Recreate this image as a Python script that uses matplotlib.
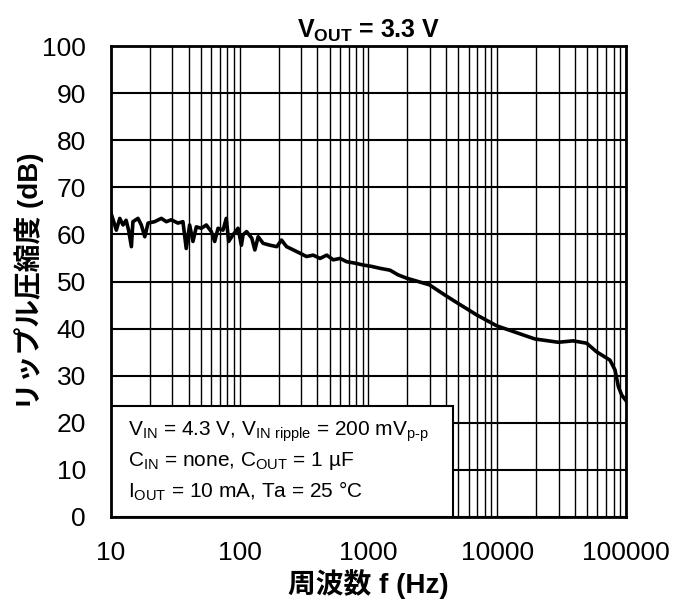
import numpy as np
import matplotlib.pyplot as plt
from matplotlib.patches import Rectangle
from matplotlib.ticker import FixedLocator, NullFormatter

plt.rcParams['font.family'] = ['Liberation Sans', 'Noto Sans CJK JP', 'DejaVu Sans']
plt.rcParams['mathtext.fontset'] = 'custom'
plt.rcParams['mathtext.rm'] = 'Liberation Sans'
plt.rcParams['mathtext.it'] = 'Liberation Sans:italic'
plt.rcParams['mathtext.bf'] = 'Liberation Sans:bold'

# frequency (Hz) and ripple rejection (dB)
freq = [10, 10.5, 11, 11.7, 12.4, 13.1, 13.7, 14.4, 14.8, 16.2, 17.2, 18.3, 19.4,
        21.8, 24.6, 26.9, 29.4, 33.1, 36.2, 38.4, 40.8, 43.3, 46, 50.3, 55, 60.1,
        63.9, 67.8, 74.1, 78.6, 82, 88.6, 97, 103, 106, 113, 124, 131, 139, 152,
        172, 194, 211, 231, 261, 294, 330, 372, 420, 474, 532, 601, 677, 785, 910,
        1060, 1228, 1470, 1700, 1980, 2970, 3930, 4930, 5890, 6920, 9880, 19600,
        29800, 38900, 49500, 58900, 75100, 82200, 87200, 92600, 100000]
psrr = [64.5, 62.7, 60.9, 63.4, 62.0, 63.0, 60.9, 57.4, 62.7, 63.4, 62.0, 59.5, 62.4,
        62.7, 63.4, 62.7, 63.1, 62.4, 62.7, 57.0, 62.0, 58.5, 61.6, 61.3, 62.0, 60.6,
        58.5, 61.3, 60.9, 63.4, 58.5, 59.9, 61.3, 57.7, 59.9, 60.6, 59.2, 56.7, 59.5, 58.1,
        57.7, 57.4, 58.8, 57.4, 56.7, 56.0, 55.3, 55.6, 54.9, 55.6, 54.6, 54.9, 54.2, 53.9, 53.5,
        53.2, 52.8, 52.4, 51.4, 50.7, 49.3, 47.1, 45.4, 44.1, 42.9, 40.6, 37.8,
        37.1, 37.4, 36.9, 35.1, 33.3, 31.2, 27.7, 25.9, 24.7]

xticks = [10, 100, 1000, 10000, 100000]
xticklabels = ['10', '100', '1000', '10000', '100000']
yticks = list(range(0, 101, 10))

fig = plt.figure(figsize=(6.73, 6.04), dpi=100)
ax = fig.add_axes([111 / 673, 87 / 604, 515 / 673, 471 / 604])

ax.plot(freq, psrr, color='black', lw=2.6, zorder=3)

ax.set_xscale('log')
ax.set_xlim(10, 100000)
ax.set_ylim(0, 100)
ax.set_xticks(xticks)
ax.set_xticklabels(xticklabels)
minor = [m * d for d in [10, 100, 1000, 10000] for m in range(2, 10)]
ax.xaxis.set_minor_locator(FixedLocator(minor))
ax.xaxis.set_minor_formatter(NullFormatter())
ax.set_yticks(yticks)

ax.grid(True, which='major', axis='y', color='black', lw=1.5)
ax.grid(True, which='both', axis='x', color='black', lw=1.0)
ax.set_axisbelow(True)
for s in ax.spines.values():
    s.set_linewidth(2)
    s.set_zorder(5)

ax.tick_params(axis='both', which='both', length=0, labelsize=19)
ax.tick_params(axis='x', pad=17)
ax.tick_params(axis='y', pad=18)

ax.set_title(r'$\mathbf{V_{OUT}}$ = 3.3 V', fontsize=18, fontweight='bold', pad=6)
ax.set_xlabel('周波数 f (Hz)', fontsize=20, fontweight='bold', labelpad=3)
ax.set_ylabel('リップル圧縮度 (dB)', fontsize=20, fontweight='bold', labelpad=-1)

# condition box
box = Rectangle((0, 0), 342 / 515, 111 / 471, transform=ax.transAxes,
                facecolor='white', edgecolor='black', lw=1.5, zorder=4)
ax.add_patch(box)
lines = [r'$\mathrm{V_{IN}}$ = 4.3 V, $\mathrm{V_{IN\ ripple}}$ = 200 mV$_{\mathrm{p\text{-}p}}$',
         r'$\mathrm{C_{IN}}$ = none, $\mathrm{C_{OUT}}$ = 1 µF',
         r'$\mathrm{I_{OUT}}$ = 10 mA, Ta = 25 °C']
for i, t in enumerate(lines):
    ax.text(17 / 515, (517 - 432) / 471 - i * 29.5 / 471, t, transform=ax.transAxes,
            fontsize=15, va='center', ha='left', zorder=6)

fig.savefig('out.png', dpi=100)
